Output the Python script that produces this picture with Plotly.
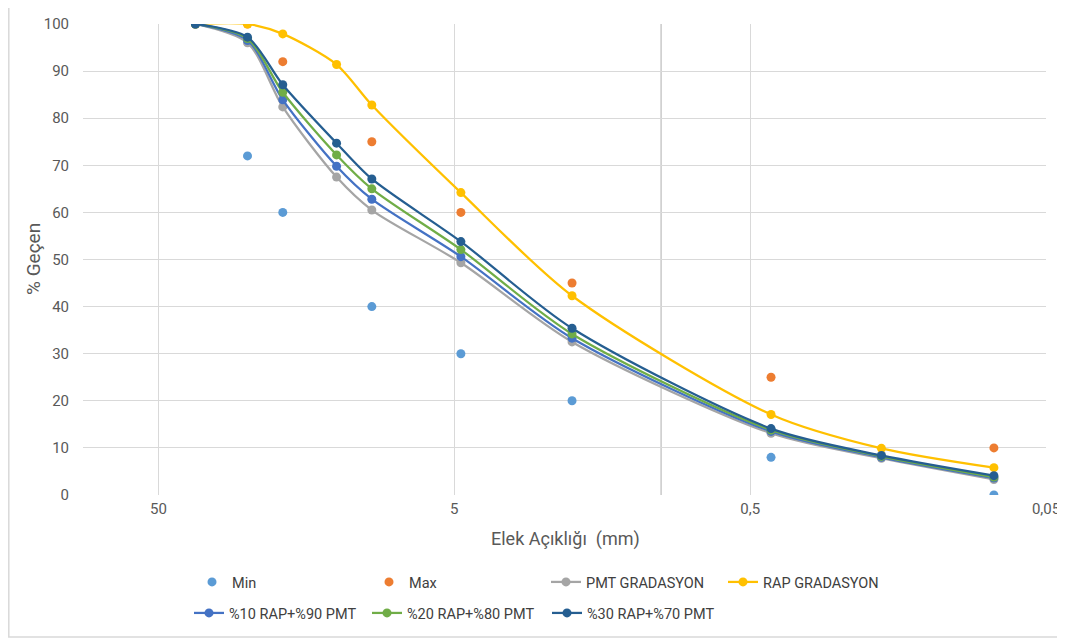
import plotly.graph_objects as go

# Sieve sizes (mm)
sieves = [37.5, 25, 19, 12.5, 9.5, 4.75, 2.0, 0.425, 0.18, 0.075]
spec_sieves = [37.5, 25, 19, 9.5, 4.75, 2.0, 0.425, 0.075]
spec_min = [100, 72, 60, 40, 30, 20, 8, 0]
spec_max = [100, 100, 92, 75, 60, 45, 25, 10]
pmt = [100, 96.0, 82.4, 67.5, 60.5, 49.3, 32.5, 13.1, 7.8, 3.3]
rap = [100, 100, 97.9, 91.4, 82.8, 64.2, 42.3, 17.1, 9.9, 5.8]
mix10 = [100, 96.5, 83.9, 69.8, 62.8, 50.6, 33.3, 13.5, 8.0, 3.6]
mix20 = [100, 96.9, 85.5, 72.2, 65.0, 52.1, 34.2, 13.8, 8.2, 3.8]
mix30 = [100, 97.2, 87.1, 74.7, 67.1, 53.8, 35.4, 14.1, 8.4, 4.1]

xtick_vals = [50, 5, 0.5, 0.05]
xtick_text = ["50", "5", "0,5", "0,05"]
ytick_vals = list(range(0, 101, 10))

FONT = "Roboto, Lato, sans-serif"
TXT = "#595959"
LEG_TXT = "#404040"

# page has an 8px body margin: figure drawn at (8, 8)
OFF = 8
W, H = 1065 - OFF, 639 - OFF
L, R, T, B = 75, 19, 16, 144
PW = W - L - R
PH = H - T - B


def px_to_paper_x(page_x):
    return (page_x - OFF - L) / PW


def px_to_paper_y(page_y):
    return ((H - B) - (page_y - OFF)) / PH


fig = go.Figure()

# (name, x, y, color, mode, legend id, legend text start x (page px), legend row y (page px))
series = [
    ("Min", spec_sieves, spec_min, "#5B9BD5", "markers", "legend", 232, 582),
    ("Max", spec_sieves, spec_max, "#ED7D31", "markers", "legend2", 409, 582),
    ("PMT GRADASYON", sieves, pmt, "#A5A5A5", "lines+markers", "legend3", 586, 582),
    ("RAP GRADASYON", sieves, rap, "#FFC000", "lines+markers", "legend4", 763, 582),
    ("%10 RAP+%90 PMT", sieves, mix10, "#4472C4", "lines+markers", "legend5", 229, 613),
    ("%20 RAP+%80 PMT", sieves, mix20, "#70AD47", "lines+markers", "legend6", 407, 613),
    ("%30 RAP+%70 PMT", sieves, mix30, "#255E91", "lines+markers", "legend7", 587, 613),
]

legend_layouts = {}
for name, xs, ys, col, mode, lg, tx, ty in series:
    kw = dict(x=xs, y=ys, mode=mode, name=name, marker=dict(color=col, size=9),
              legend=lg, showlegend=True)
    if "lines" in mode:
        kw["line"] = dict(color=col, width=2.25, shape="spline", smoothing=0.8)
    fig.add_trace(go.Scatter(**kw))
    legend_layouts[lg] = dict(
        visible=True,
        orientation="h", x=px_to_paper_x(tx - 40), xanchor="left",
        y=px_to_paper_y(ty), yanchor="middle", itemwidth=30,
        font=dict(size=14.5, color=LEG_TXT, family=FONT), bgcolor="rgba(0,0,0,0)",
    )

# vertical reference line at 1 mm
fig.add_shape(type="line", xref="x", yref="paper", x0=1, x1=1, y0=0, y1=1,
              line=dict(color="#C9C9C9", width=1.5), layer="below")

# chart outer border (left & bottom visible)
fig.add_shape(type="rect", xref="paper", yref="paper",
              x0=px_to_paper_x(8.8), x1=px_to_paper_x(1100),
              y0=px_to_paper_y(637), y1=px_to_paper_y(-20),
              line=dict(color="#D9D9D9", width=1.5), layer="below")

# axis titles as annotations
fig.add_annotation(text="% Geçen", xref="paper", yref="paper",
                   x=px_to_paper_x(33), y=px_to_paper_y(259), textangle=-90,
                   showarrow=False, font=dict(size=19, color=TXT, family=FONT),
                   xanchor="center", yanchor="middle")
fig.add_annotation(text="Elek Açıklığı  (mm)", xref="paper", yref="paper",
                   x=px_to_paper_x(565), y=px_to_paper_y(539),
                   showarrow=False, font=dict(size=18, color=TXT, family=FONT),
                   xanchor="center", yanchor="middle")

fig.update_layout(
    width=W, height=H,
    showlegend=True,
    margin=dict(l=L, r=R, t=T, b=B, autoexpand=False),
    paper_bgcolor="white", plot_bgcolor="white",
    font=dict(family=FONT, color=TXT, size=15),
    xaxis=dict(type="log", range=[1.954, -1.301], tickvals=xtick_vals, ticktext=xtick_text,
               showgrid=True, gridcolor="#D9D9D9", gridwidth=1, zeroline=False,
               showline=False, ticks="", tickfont=dict(size=15, color=TXT),
               ticklabelstandoff=3, automargin=False),
    yaxis=dict(range=[0, 100], tickvals=ytick_vals, showgrid=True, gridcolor="#D9D9D9",
               gridwidth=1, zeroline=False, showline=False, ticks="",
               tickfont=dict(size=15, color=TXT), ticklabelstandoff=13, automargin=False),
    **legend_layouts,
)

fig.write_html("out.html")
